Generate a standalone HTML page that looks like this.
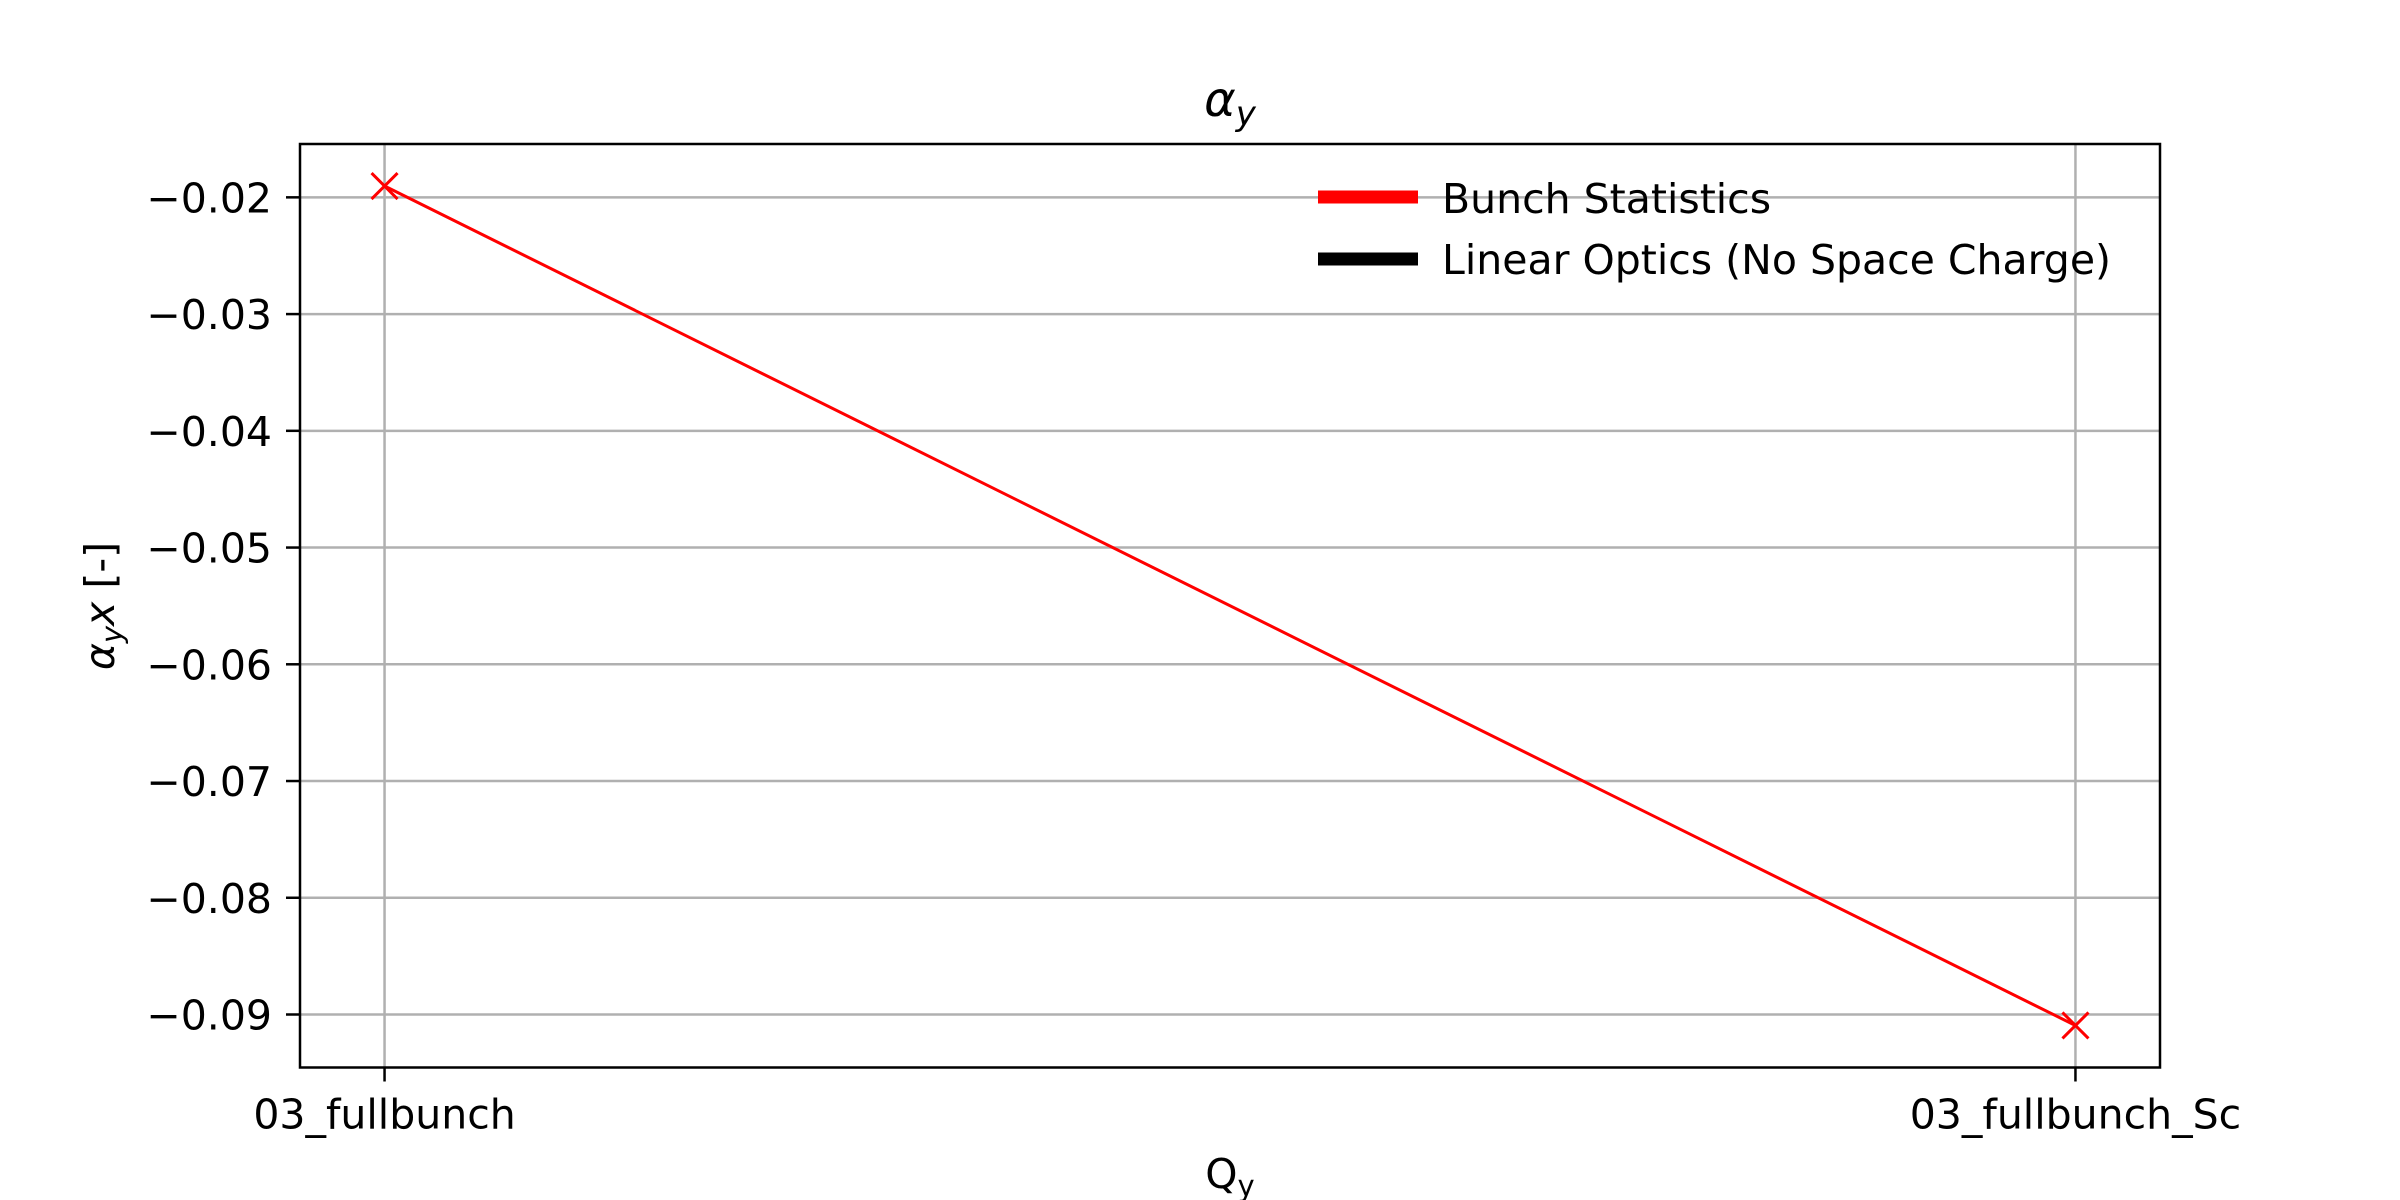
<!DOCTYPE html>
<html><head><meta charset="utf-8"><style>
body{margin:0;background:#fff}
svg{display:block;font-family:"DejaVu Sans","Liberation Sans",sans-serif}
</style></head><body>
<svg id="chart" width="2400" height="1200" viewBox="0 0 2400 1200">
<rect width="2400" height="1200" fill="#fff"/>
<g id="grid"></g>
<g id="series"></g>
<rect x="300" y="144" width="1860" height="923.5" fill="none" stroke="#000" stroke-width="2.5"/>
<g id="ticks"></g>
<text x="1230" y="116" text-anchor="middle" font-size="48" font-style="italic">α<tspan font-size="34" dy="9">y</tspan></text>
<text x="1230" y="1188" text-anchor="middle" font-size="41">Q<tspan font-size="29" dy="8">y</tspan></text>
<text transform="translate(114,606) rotate(-90)" text-anchor="middle" font-size="41"><tspan font-style="italic">α</tspan><tspan font-size="29" dy="8" font-style="italic">y</tspan><tspan dy="-8" font-style="italic">x</tspan> [-]</text>
<g>
<line x1="1318" y1="197" x2="1418" y2="197" stroke="#ff0000" stroke-width="13"/>
<text x="1442" y="213" font-size="41">Bunch Statistics</text>
<line x1="1318" y1="259" x2="1418" y2="259" stroke="#000" stroke-width="13"/>
<text x="1442" y="274" font-size="41">Linear Optics (No Space Charge)</text>
</g>
</svg>
<script>
const categories = ["03_fullbunch", "03_fullbunch_Sc"];
const bunchValues = [-0.01903, -0.09094];
const yTickValues = [-0.02, -0.03, -0.04, -0.05, -0.06, -0.07, -0.08, -0.09];
const yTickLabels = ["−0.02", "−0.03", "−0.04", "−0.05", "−0.06", "−0.07", "−0.08", "−0.09"];

const NS = "http://www.w3.org/2000/svg";
const L = 300, R = 2160, T = 144, B = 1067.5;
const ymin = -0.09454, ymax = -0.01543;
const xmin = -0.05, xmax = (categories.length - 1) + 0.05;
function xs(i){ return L + (i - xmin) / (xmax - xmin) * (R - L); }
function ys(v){ return B - (v - ymin) / (ymax - ymin) * (B - T); }
function mk(tag, attrs, parent){
  const e = document.createElementNS(NS, tag);
  for (const k in attrs) e.setAttribute(k, attrs[k]);
  parent.appendChild(e);
  return e;
}
const grid = document.getElementById('grid');
const ticks = document.getElementById('ticks');
const series = document.getElementById('series');

yTickValues.forEach((v, i) => {
  const y = ys(v);
  const g = mk('line', {x1: L, x2: R, y1: y, y2: y, stroke: '#b0b0b0', 'stroke-width': 2.5}, grid);
  
  
  const t = mk('line', {x1: L - 14, x2: L, y1: y, y2: y, stroke: '#000', 'stroke-width': 2.5}, ticks);
  
  
  const lb = mk('text', {x: L - 28, y: y + 15, 'text-anchor': 'end', 'font-size': 41}, ticks);
  lb.textContent = yTickLabels[i];
  
  
});
categories.forEach((c, i) => {
  const x = xs(i);
  const g = mk('line', {x1: x, x2: x, y1: T, y2: B, stroke: '#b0b0b0', 'stroke-width': 2.5}, grid);
  
  
  const t = mk('line', {x1: x, x2: x, y1: B, y2: B + 14, stroke: '#000', 'stroke-width': 2.5}, ticks);
  
  
  const lb = mk('text', {x: x, y: B + 61, 'text-anchor': 'middle', 'font-size': 41}, ticks);
  lb.textContent = c;
  
  
});
const pts = bunchValues.map((v, i) => xs(i) + ',' + ys(v)).join(' ');
const line = mk('polyline', {points: pts, fill: 'none', stroke: '#ff0000', 'stroke-width': 3}, series);


bunchValues.forEach((v, i) => {
  const x = xs(i), y = ys(v), s = 13;
  const m = mk('path', {d: `M${x-s},${y-s}L${x+s},${y+s}M${x-s},${y+s}L${x+s},${y-s}`, stroke: '#ff0000', 'stroke-width': 3, fill: 'none'}, series);
  
  
});
</script>
</body></html>
